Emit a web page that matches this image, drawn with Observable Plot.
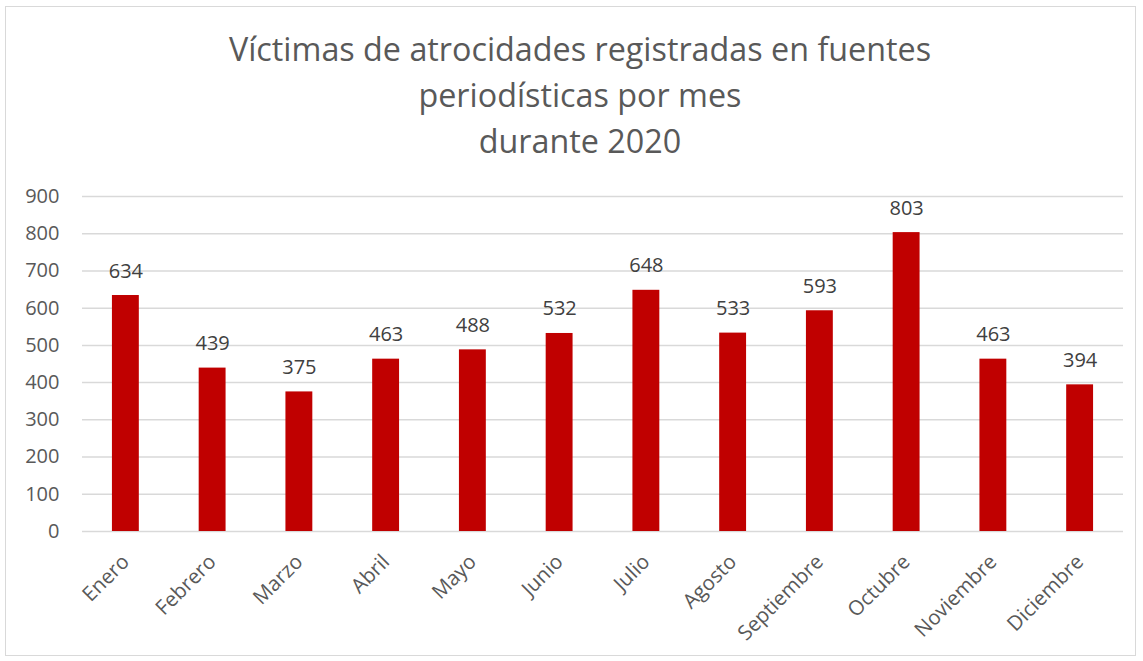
<!DOCTYPE html>
<html>
<head>
<meta charset="utf-8">
<script src="https://cdn.jsdelivr.net/npm/d3@7"></script>
<script src="https://cdn.jsdelivr.net/npm/@observablehq/plot@0.6"></script>
<style>
  html, body { margin: 0; padding: 0; background: #fff; }
  #wrap { position: relative; width: 1143px; height: 661px; overflow: hidden; font-family: "Open Sans", sans-serif; }
  #frame { position: absolute; left: 5px; top: 6px; width: 1131px; height: 650px; border: 1.5px solid #d9d9d9; box-sizing: border-box; }
  #title { position: absolute; left: 0; top: 25px; width: 1160px; text-align: center; color: #595959; font-size: 32.3px; line-height: 46px; }
  #chart { position: absolute; left: 0; top: 0; }
</style>
</head>
<body>
<div id="wrap">
  <div id="frame"></div>
  <div id="chart"></div>
  <div id="title">Víctimas de atrocidades registradas en fuentes<br>periodísticas por mes<br>durante 2020</div>
</div>
<script>
const months = ["Enero","Febrero","Marzo","Abril","Mayo","Junio","Julio","Agosto","Septiembre","Octubre","Noviembre","Diciembre"];
const victims = [634, 439, 375, 463, 488, 532, 648, 533, 593, 803, 463, 394];
const yTicks = [0, 100, 200, 300, 400, 500, 600, 700, 800, 900];

const data = months.map((m, i) => ({month: m, value: victims[i]}));

const chart = Plot.plot({
  width: 1143,
  height: 661,
  marginTop: 196,
  marginBottom: 130,
  marginLeft: 82,
  marginRight: 20,
  style: {fontFamily: "'Open Sans', sans-serif", fontSize: "20px", color: "#595959", background: "transparent", overflow: "visible"},
  x: {domain: months, paddingInner: 0.69, paddingOuter: 0.345, round: false, label: null},
  y: {domain: [0, 900], label: null},
  marks: [
    Plot.gridY(yTicks, {stroke: "#d9d9d9", strokeOpacity: 1, strokeWidth: 1.5}),
    Plot.axisY(yTicks, {tickSize: 0, tickPadding: 23, fontSize: 20, fill: "#595959", label: null}),
    Plot.axisX({tickSize: 0, tickPadding: 27, tickRotate: -45, fontSize: 20.5, fill: "#595959", label: null}),
    Plot.barY(data, {x: "month", y: "value", fill: "#c00000"}),
    Plot.text(data, {x: "month", y: "value", text: d => String(d.value), dy: -18, lineAnchor: "bottom", fontSize: 20, fill: "#404040"})
  ]
});
document.getElementById("chart").appendChild(chart);
</script>
</body>
</html>
